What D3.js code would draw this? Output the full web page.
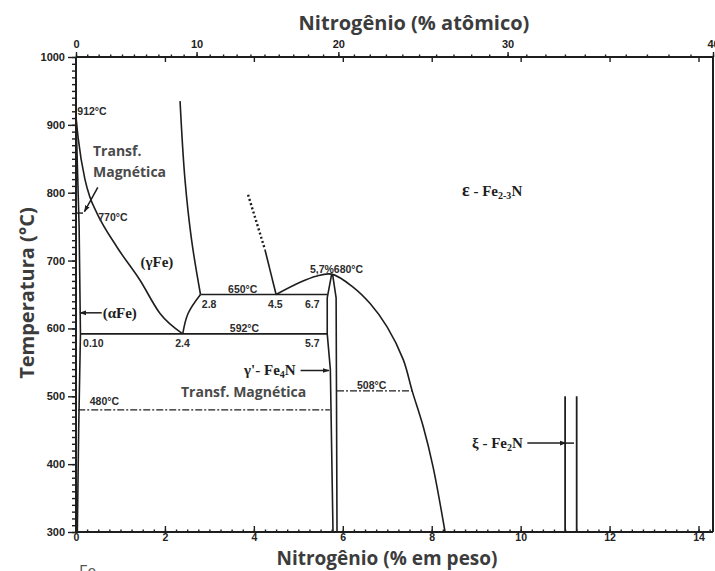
<!DOCTYPE html>
<html><head><meta charset="utf-8">
<script src="https://cdn.jsdelivr.net/npm/d3@7"></script>
<style>
body{margin:0;background:#fff;}
svg{display:block;}
</style></head>
<body><svg id="chart" width="715" height="571"></svg>
<script>
// Fe–N phase diagram (nitrogen in weight % below, atomic % above)
const wtTicks = [0, 2, 4, 6, 8, 10, 12, 14];
const atTicks = [0, 10, 20, 30, 40];
const tempTicks = [300, 400, 500, 600, 700, 800, 900, 1000];

// phase boundaries, points as [N wt%, T °C]
const alphaSolvus    = [[0, 912], [0.07, 750], [0.10, 592], [0.06, 450], [0.03, 300]];
const alphaGammaLine = [[0, 912], [0.05, 880], [0.2, 820], [0.31, 794], [0.47, 770], [0.92, 720], [1.44, 671], [1.89, 622], [2.4, 592]];
const gammaUpper     = [[2.34, 935], [2.45, 820], [2.6, 730], [2.8, 650]];
const gammaLower     = [[2.4, 592], [2.52, 622], [2.8, 650]];
const epsExtrapolated = [[3.87, 797], [4.25, 716]];
const epsLowerLeft   = [[4.25, 716], [4.5, 650]];
const epsBoundary    = [[4.5, 650], [5.04, 668], [5.4, 677], [5.75, 680], [6.23, 661], [6.61, 637], [7.0, 602], [7.36, 554], [7.56, 508], [7.81, 455], [8.03, 396], [8.3, 300]];
const gPrimeLeft     = [[5.75, 680], [5.65, 645], [5.65, 592], [5.72, 540], [5.78, 300]];
const gPrimeRight    = [[5.77, 680], [5.85, 645], [5.87, 300]];
const xiLimits       = [11.0, 11.26];
const xiTopTemp      = 500;

// isotherms: [T, from wt%, to wt%]
const solidIsotherms  = [[650, 2.8, 5.65], [592, 0.10, 5.65]];
const dashedIsotherms = [[480, 0.05, 5.71], [508, 5.87, 7.56], [770, 0.0, 0.17]];

// compositions written along the isotherms
const compLabels650 = ["2.8", "4.5", "6.7"];
const compLabels592 = ["0.10", "2.4", "5.7"];

// atomic % -> weight % of N in Fe
const MN = 14.007, MFe = 55.845;
const atToWt = a => 100 * a * MN / (a * MN + (100 - a) * MFe);

const svg = d3.select("#chart");
const L = 76, R = 713, T = 57, B = 532;

const x = d3.scaleLinear().domain([0, atToWt(40)]).range([L, R]);
const y = d3.scaleLinear().domain([300, 1000]).range([B, T]);

const ink = "#1e1e1e";
const tickFont = "'Liberation Sans', Arial, sans-serif";

// arrow head
svg.append("defs").append("marker")
  .attr("id", "arr").attr("viewBox", "0 0 10 10")
  .attr("refX", 9).attr("refY", 5)
  .attr("markerWidth", 7).attr("markerHeight", 7)
  .attr("markerUnits", "userSpaceOnUse")
  .attr("orient", "auto")
  .append("path").attr("d", "M0,1.5 L10,5 L0,8.5 Z").attr("fill", ink);

// ---- axes ----
function styleAxis(g) {
  g.select(".domain").remove();
  g.selectAll("line").attr("stroke", ink).attr("stroke-width", 1.4);
  g.selectAll("text").attr("fill", "#222").attr("font-family", tickFont)
    .attr("font-weight", "bold").attr("font-size", 11);
}

// left temperature axis: minor ticks every 10 °C, labelled every 100 °C
svg.append("g").attr("transform", `translate(${L},0)`)
  .call(d3.axisLeft(y).tickValues(d3.range(300, 1001, 10)).tickSize(4).tickFormat(""))
  .call(styleAxis);
svg.append("g").attr("transform", `translate(${L},0)`)
  .call(d3.axisLeft(y).tickValues(tempTicks).tickSize(8).tickPadding(3).tickFormat(d3.format("d")))
  .call(styleAxis);

// bottom weight-% axis
svg.append("g").attr("transform", `translate(0,${B})`)
  .call(d3.axisTop(x).tickValues(d3.range(0, 14.3, 0.25)).tickSize(2.5).tickFormat(""))
  .call(styleAxis);
svg.append("g").attr("transform", `translate(0,${B})`)
  .call(d3.axisTop(x).tickValues(wtTicks).tickSize(6).tickFormat(""))
  .call(styleAxis);
svg.append("g").attr("transform", `translate(0,${B})`)
  .call(d3.axisBottom(x).tickValues(wtTicks).tickSize(0).tickPadding(2).tickFormat(d3.format("d")))
  .call(styleAxis)
  .call(g => g.selectAll("text").attr("font-size", 10.5));

// top atomic-% axis (labels in at.%, placed at the equivalent wt.%)
svg.append("g").attr("transform", `translate(0,${T})`)
  .call(d3.axisTop(x).tickValues(d3.range(0, 40.1, 1).map(atToWt)).tickSize(2.5).tickFormat(""))
  .call(styleAxis);
svg.append("g").attr("transform", `translate(0,${T})`)
  .call(d3.axisTop(x).tickValues(atTicks.map(atToWt)).tickSize(5).tickPadding(4)
    .tickFormat((d, i) => atTicks[i]))
  .call(styleAxis);
svg.append("g").attr("transform", `translate(0,${T})`)
  .call(d3.axisBottom(x).tickValues(wtTicks.slice(1)).tickSize(5).tickFormat(""))
  .call(styleAxis);

// frame
const frame = svg.append("g").attr("stroke", ink).attr("stroke-width", 2).attr("fill", "none");
frame.append("line").attr("x1", L).attr("x2", R).attr("y1", T).attr("y2", T);
frame.append("line").attr("x1", L).attr("x2", R).attr("y1", B).attr("y2", B);
frame.append("line").attr("x1", L).attr("x2", L).attr("y1", T).attr("y2", B);
frame.append("line").attr("x1", R).attr("x2", R).attr("y1", T).attr("y2", B);

// ---- phase boundaries ----
const lineOf = curve => d3.line().x(d => x(d[0])).y(d => y(d[1])).curve(curve);
const phase = svg.append("g").attr("fill", "none").attr("stroke", ink)
  .attr("stroke-width", 1.6).attr("stroke-linejoin", "round");

phase.append("path").attr("d", lineOf(d3.curveLinear)(alphaSolvus));
phase.append("path").attr("d", lineOf(d3.curveMonotoneX)(alphaGammaLine));
phase.append("path").attr("d", lineOf(d3.curveCatmullRom)(gammaUpper));
phase.append("path").attr("d", lineOf(d3.curveCatmullRom)(gammaLower));
phase.append("path").attr("d", lineOf(d3.curveLinear)(epsExtrapolated))
  .attr("stroke-width", 2.4).attr("stroke-dasharray", "2,2.4");
phase.append("path").attr("d", lineOf(d3.curveLinear)(epsLowerLeft));
phase.append("path").attr("d", lineOf(d3.curveCatmullRom)(epsBoundary));
phase.append("path").attr("d", lineOf(d3.curveLinear)(gPrimeLeft));
phase.append("path").attr("d", lineOf(d3.curveLinear)(gPrimeRight));
xiLimits.forEach(w => {
  phase.append("line").attr("x1", x(w)).attr("x2", x(w))
    .attr("y1", y(xiTopTemp)).attr("y2", y(300)).attr("stroke-width", 1.8);
});

// isotherms
solidIsotherms.forEach(([t, a, b]) => {
  phase.append("line").attr("x1", x(a)).attr("x2", x(b)).attr("y1", y(t)).attr("y2", y(t));
});
dashedIsotherms.forEach(([t, a, b]) => {
  phase.append("line").attr("x1", x(a)).attr("x2", x(b)).attr("y1", y(t)).attr("y2", y(t))
    .attr("stroke-width", 1.4).attr("stroke-dasharray", "7,2,2,2");
});

// ---- pointers ----
const ptr = svg.append("g").attr("stroke", ink).attr("stroke-width", 1.5).attr("fill", "none");
ptr.append("line").attr("x1", x(0.58)).attr("y1", y(623)).attr("x2", x(0.09)).attr("y2", y(623))
  .attr("marker-end", "url(#arr)");
ptr.append("line").attr("x1", x(5.05)).attr("y1", y(538)).attr("x2", x(5.69)).attr("y2", y(538))
  .attr("marker-end", "url(#arr)");
ptr.append("line").attr("x1", x(10.15)).attr("y1", y(431)).attr("x2", x(11.02)).attr("y2", y(431))
  .attr("marker-end", "url(#arr)");
ptr.append("line").attr("x1", x(11.02)).attr("y1", y(431)).attr("x2", x(11.2)).attr("y2", y(431));
ptr.append("line").attr("x1", x(0.49)).attr("y1", y(808)).attr("x2", x(0.19)).attr("y2", y(772))
  .attr("marker-end", "url(#arr)");

// ---- small numeric labels ----
const small = svg.append("g").attr("fill", "#2c2c2c").attr("font-family", tickFont)
  .attr("font-weight", "bold").attr("font-size", 10.5);
const put = (g, txt, w, t) => g.append("text").attr("x", x(w)).attr("y", y(t)).text(txt);

put(small, "912°C", 0.03, 914);
put(small, `${dashedIsotherms[2][0]}°C`, 0.5, 758);
put(small, `${solidIsotherms[0][0]}°C`, 3.42, 652);
put(small, `${solidIsotherms[1][0]}°C`, 3.46, 595);
[2.83, 4.32, 5.15].forEach((w, i) => put(small, compLabels650[i], w, 630));
[0.16, 2.23, 5.15].forEach((w, i) => put(small, compLabels592[i], w, 572.5));
put(small, "5,7%680°C", 5.26, 682);
put(small, `${dashedIsotherms[1][0]}°C`, 6.32, 511);
put(small, `${dashedIsotherms[0][0]}°C`, 0.31, 487);

// ---- magnetic transformation notes ----
const note = svg.append("g").attr("fill", "#4a4a4a")
  .attr("font-family", "'Open Sans', sans-serif").attr("font-weight", "bold").attr("font-size", 14);
note.append("text").attr("x", 93).attr("y", 156).text("Transf.");
note.append("text").attr("x", 93).attr("y", 177).text("Magnética");
note.append("text").attr("x", 181).attr("y", 397).text("Transf. Magnética");

// ---- phase names ----
const ph = svg.append("g").attr("fill", "#1e1e1e")
  .attr("font-family", "'Liberation Serif', 'Times New Roman', serif").attr("font-weight", "bold").attr("font-size", 15);
ph.append("text").attr("x", x(1.45)).attr("y", y(690)).text("(γFe)");
ph.append("text").attr("x", x(0.6)).attr("y", y(623)).attr("dy", "0.33em").text("(αFe)");

const gp = ph.append("text").attr("x", x(3.78)).attr("y", y(538)).attr("dy", "0.33em");
gp.append("tspan").text("γ'- Fe");
gp.append("tspan").attr("font-size", 10).attr("dy", 3).text("4");
gp.append("tspan").attr("dy", -3).text("N");

const ep = ph.append("text").attr("x", 462).attr("y", 196);
ep.append("tspan").attr("font-size", 18).text("ε");
ep.append("tspan").text(" - Fe");
ep.append("tspan").attr("font-size", 10).attr("dy", 3).text("2-3");
ep.append("tspan").attr("dy", -3).text("N");

const xi = ph.append("text").attr("x", 472).attr("y", y(431)).attr("dy", "0.33em");
xi.append("tspan").text("ξ - Fe");
xi.append("tspan").attr("font-size", 10).attr("dy", 3).text("2");
xi.append("tspan").attr("dy", -3).text("N");

// ---- axis titles ----
const title = svg.append("g").attr("fill", "#3c3c3c")
  .attr("font-family", "'Open Sans', sans-serif").attr("font-weight", "bold").attr("font-size", 20)
  .attr("text-anchor", "middle");
title.append("text").attr("x", 414).attr("y", 30).text("Nitrogênio (% atômico)");
title.append("text").attr("x", 387).attr("y", 565).attr("font-size", 19).text("Nitrogênio (% em peso)");
title.append("text").attr("transform", "translate(34,293) rotate(-90)").text("Temperatura (°C)");
svg.append("text").attr("x", 79).attr("y", 577).attr("fill", "#555")
  .attr("font-family", "'Open Sans', sans-serif").attr("font-size", 16).text("Fe");
</script>
</body></html>
